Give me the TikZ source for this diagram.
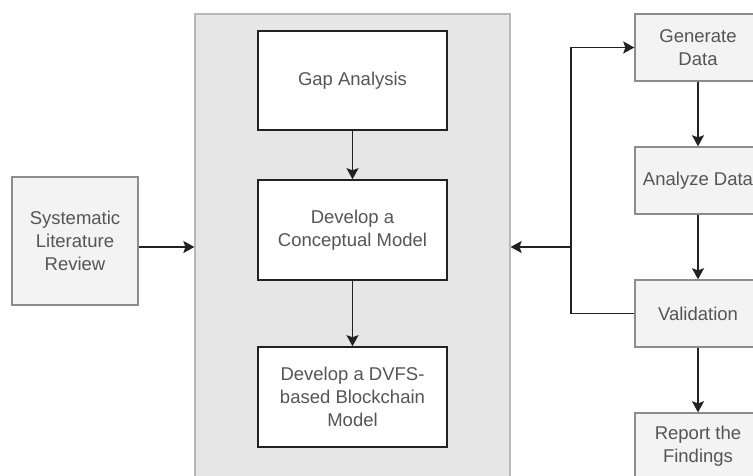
\documentclass[tikz,border=0pt]{standalone}
\usepackage{fontspec}
\setmainfont{Liberation Sans}
\usetikzlibrary{arrows.meta}
\definecolor{txt}{HTML}{555555}
\definecolor{panelfill}{HTML}{E6E6E6}
\definecolor{paneldraw}{HTML}{B8B8B8}
\definecolor{sidefill}{HTML}{F3F3F3}
\definecolor{sidedraw}{HTML}{8C8C8C}
\definecolor{linec}{HTML}{222222}
\tikzset{
  lbl/.style={font=\fontsize{18.5}{23}\selectfont, text=txt, align=center, inner sep=0pt},
  whitebox/.style={lbl, draw=linec, fill=white, line width=1.6pt, minimum width=189pt, minimum height=99pt},
  sidebox/.style={lbl, draw=sidedraw, fill=sidefill, line width=1.4pt, minimum width=126pt},
  conn/.style={draw=linec, line width=1.6pt, -{Stealth[length=11pt,width=12pt,inset=2pt]}},
  plainline/.style={draw=linec, line width=1.6pt}
}
\begin{document}
\begin{tikzpicture}[x=1pt,y=-1pt]
\useasboundingbox (0,0) rectangle (753,476);
\clip (0,0) rectangle (753,476);
\node[draw=paneldraw, fill=panelfill, line width=1.2pt, minimum width=315pt, minimum height=476pt, inner sep=0pt] (panel) at (352.5,252) {};
\node[sidebox, minimum height=128pt] (slr) at (75,241) {Systematic\\Literature\\Review};
\node[whitebox] (gap) at (352.5,80.5) {Gap Analysis};
\node[whitebox, minimum height=100pt] (concept) at (352.5,230) {Develop a\\Conceptual Model};
\node[whitebox, minimum height=100pt] (dvfs) at (352.5,397) {Develop a DVFS-\\based Blockchain\\Model};
\node[sidebox, minimum height=67pt] (gen) at (698,47.5) {Generate\\Data};
\node[sidebox, minimum height=67pt] (ana) at (698,180.5) {Analyze Data};
\node[sidebox, minimum height=67pt] (val) at (698,313.5) {Validation};
\node[sidebox, minimum height=67pt] (rep) at (698,446.5) {Report the\\Findings};
\coordinate (m) at (0,247);
\coordinate (j) at (571,247);
\draw[conn] (slr.east |- m) -- (panel.west |- m);
\draw[conn] (gap) -- (concept);
\draw[conn] (concept) -- (dvfs);
\draw[conn] (gen) -- (ana);
\draw[conn] (ana) -- (val);
\draw[conn] (val) -- (rep);
\draw[plainline] (val.west) -| (j);
\draw[conn] (j) |- (gen.west);
\draw[conn] (j) -- (panel.east |- j);
\end{tikzpicture}
\end{document}
